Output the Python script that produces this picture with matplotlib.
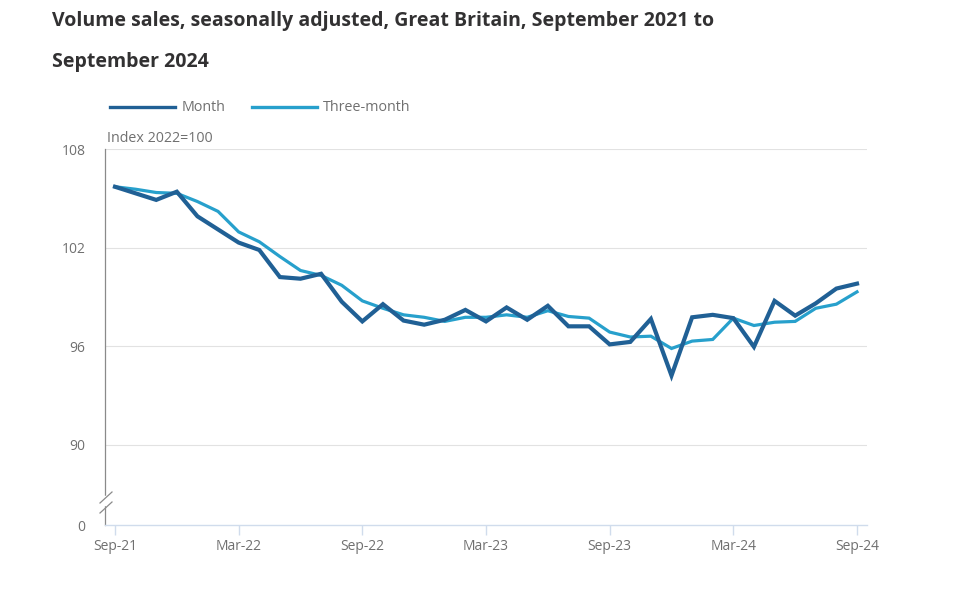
import matplotlib
matplotlib.use("Agg")
import matplotlib.pyplot as plt
import numpy as np

plt.rcParams['font.family'] = ['Open Sans', 'DejaVu Sans']

tick_labels = ["Sep-21", "Mar-22", "Sep-22", "Mar-23", "Sep-23", "Mar-24", "Sep-24"]
month = [105.7, 105.3, 104.9, 105.4, 103.9, 103.1, 102.3, 101.85, 100.2, 100.1,
         100.4, 98.7, 97.5, 98.55, 97.55, 97.3, 97.6, 98.2, 97.5, 98.35,
         97.6, 98.45, 97.2, 97.2, 96.1, 96.25, 97.65, 94.2, 97.75, 97.9,
         97.7, 95.95, 98.75, 97.85, 98.6, 99.5, 99.8]
three_month = [105.7, 105.55, 105.35, 105.3, 104.8, 104.2, 102.95, 102.35, 101.45, 100.6,
               100.3, 99.7, 98.75, 98.3, 97.9, 97.75, 97.5, 97.75, 97.75, 97.9,
               97.75, 98.15, 97.8, 97.7, 96.85, 96.55, 96.6, 95.85, 96.3, 96.4,
               97.7, 97.25, 97.45, 97.5, 98.3, 98.55, 99.3]
y_ticks = [90, 96, 102, 108]

x = np.arange(len(month))
c_month = "#206095"
c_three = "#27a0cc"
grey = "#707070"

fig = plt.figure(figsize=(9.6, 5.89), dpi=100)
ax = fig.add_axes([105/960, 1-525/589, (867-105)/960, (525-149)/589])

ax.plot(x, three_month, color=c_three, lw=2.3, solid_joinstyle='miter', zorder=3, label="Three-month")
ax.plot(x, month, color=c_month, lw=3.0, solid_joinstyle='miter', zorder=4, label="Month")

ybot = 85.1
ax.set_ylim(ybot, 108)
ax.set_xlim(-0.485, 36.485)
ax.set_yticks([ybot] + y_ticks)
ax.set_yticklabels(["0"] + [str(v) for v in y_ticks])
ax.set_xticks(np.arange(0, 37, 6))
ax.set_xticklabels(tick_labels)

for v in y_ticks:
    ax.axhline(v, color="#e2e2e2", lw=0.8, zorder=1)

for s in ["top", "right"]:
    ax.spines[s].set_visible(False)
ax.spines["left"].set_color("#8a8a8a")
ax.spines["left"].set_linewidth(0.9)
ax.spines["bottom"].set_color("#d0dcec")
ax.spines["bottom"].set_linewidth(1.0)
ax.tick_params(axis='y', length=0, pad=14, labelsize=10, labelcolor=grey)
ax.tick_params(axis='x', length=7, width=1.0, color="#d0dcec", pad=3, labelsize=10, labelcolor=grey)

# axis break marks
trans = ax.transAxes
def px2ax(px, py):
    return ((px-105)/762, (525-py)/376)
g0 = px2ax(105, 504); g1 = px2ax(105, 497)
ax.plot([g0[0], g1[0]], [g0[1], g1[1]], transform=trans, color="white", lw=2.5, clip_on=False, zorder=5)
for (a, b) in [((100, 503), (112, 492)), ((100, 513), (112, 502))]:
    p0 = px2ax(*a); p1 = px2ax(*b)
    ax.plot([p0[0], p1[0]], [p0[1], p1[1]], transform=trans, color="#8a8a8a", lw=0.9, clip_on=False, zorder=6)

fig.text(52/960, 1-21/589, "Volume sales, seasonally adjusted, Great Britain, September 2021 to",
         fontsize=14, fontweight='bold', color="#323132", va='center', ha='left')
fig.text(52/960, 1-62/589, "September 2024",
         fontsize=14, fontweight='bold', color="#323132", va='center', ha='left')
fig.text(107/960, 1-138/589, "Index 2022=100", fontsize=10.3, color=grey, va='center', ha='left')

# legend
ly = 1-107/589
fig.lines.append(plt.Line2D([110/960, 175/960], [ly, ly], color=c_month, lw=2.4, transform=fig.transFigure))
fig.text(182/960, ly, "Month", fontsize=10.3, color=grey, va='center', ha='left')
fig.lines.append(plt.Line2D([252/960, 317/960], [ly, ly], color=c_three, lw=2.4, transform=fig.transFigure))
fig.text(323/960, ly, "Three-month", fontsize=10.3, color=grey, va='center', ha='left')

fig.savefig("out.png", dpi=100, facecolor="white")
